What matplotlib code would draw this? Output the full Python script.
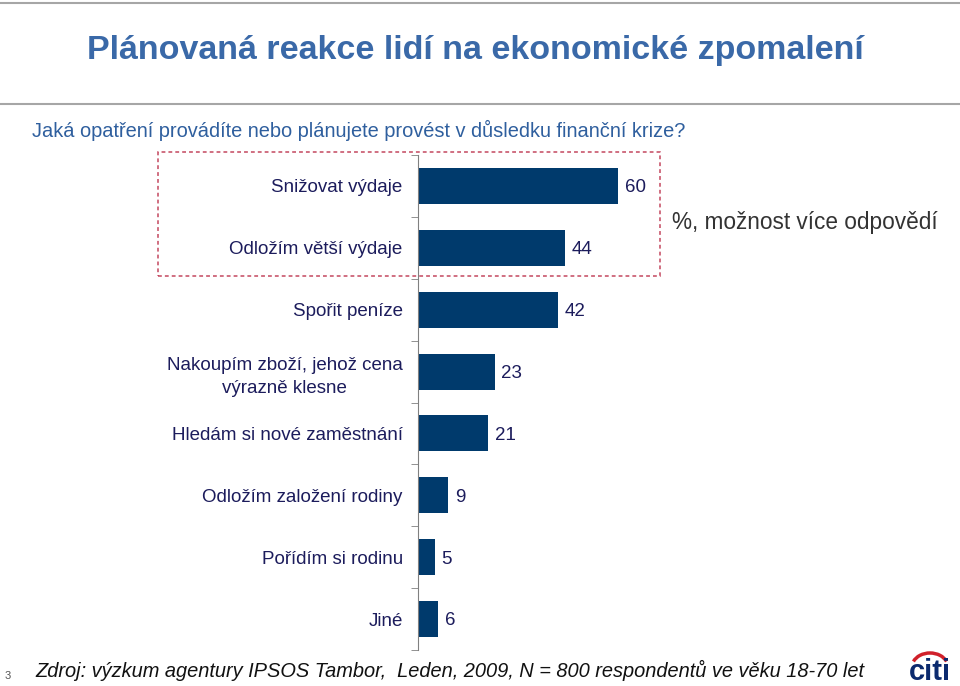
import matplotlib.pyplot as plt
from matplotlib.patches import Rectangle, Arc
from matplotlib.lines import Line2D

# %% DATA
categories = [
    "Snižovat výdaje",
    "Odložím větší výdaje",
    "Spořit peníze",
    "Nakoupím zboží, jehož cena\nvýrazně klesne",
    "Hledám si nové zaměstnání",
    "Odložím založení rodiny",
    "Pořídím si rodinu",
    "Jiné",
]
values = [60, 44, 42, 23, 21, 9, 5, 6]

title = "Plánovaná reakce lidí na ekonomické zpomalení"
question = "Jaká opatření provádíte nebo plánujete provést v důsledku finanční krize?"
note = "%, možnost více odpovědí"
source = "Zdroj: výzkum agentury IPSOS Tambor,  Leden, 2009, N = 800 respondentů ve věku 18-70 let"

plt.rcParams['font.family'] = ['Liberation Sans', 'DejaVu Sans']

bar_color = "#003a6c"
label_color = "#1c1c5c"

# %% FIGURE
fig = plt.figure(figsize=(9.6, 6.86), dpi=100)

# header lines
for y in [1 - 3 / 686, 1 - 104 / 686]:
    fig.add_artist(Line2D([0, 1], [y, y], color="#a6a6a6", lw=1.5, transform=fig.transFigure))

fig.text(475 / 960, 1 - 50 / 686, title, ha="center", va="center",
         fontsize=24.5, fontweight="bold", color="#3a69a8")
fig.text(32 / 960, 1 - 130 / 686, question, ha="left", va="center",
         fontsize=14.4, color="#2f5f9e")

# dashed box around first two items
fig.add_artist(Rectangle((158 / 960, 1 - 276 / 686), (660 - 158) / 960, (276 - 152) / 686,
                         transform=fig.transFigure, fill=False, ls=(0, (2.5, 2)),
                         lw=1.1, edgecolor="#c4485f"))

fig.text(672 / 960, 1 - 222 / 686, note, ha="left", va="center",
         fontsize=16.3, color="#333333")

# %% BARS
ax = fig.add_axes([418 / 960, 1 - 650 / 686, 333.3 / 960, 495 / 686])
y = list(range(len(categories)))
ax.barh(y, values, height=0.58, color=bar_color)
ax.set_xlim(0, 100)
ax.set_ylim(len(categories) - 0.5, -0.5)

for yi, v in zip(y, values):
    ax.text(v + 2, yi + 0.03, str(v), va="center", ha="left", fontsize=13.5, color=label_color)

ax.set_yticks(y)
ax.set_yticklabels(categories, fontsize=13.5, color=label_color)
for lab in ax.get_yticklabels():
    lab.set_multialignment("center")
    lab.set_linespacing(1.5)
ax.set_yticks([i - 0.5 for i in range(len(categories) + 1)], minor=True)
ax.tick_params(axis="y", which="major", length=0, pad=11)
ax.tick_params(axis="y", which="minor", length=5, color="#808080", direction="out")
ax.set_xticks([])
for s in ["top", "right", "bottom"]:
    ax.spines[s].set_visible(False)
ax.spines["left"].set_color("#808080")
ax.patch.set_alpha(0)

# %% FOOTER
fig.text(5 / 960, 1 - 676 / 686, "3", ha="left", va="center", fontsize=8, color="#555555")
fig.text(35 / 960, 1 - 670 / 686, source, ha="left", va="center",
         fontsize=14.4, style="italic", color="#111111")

# citi logo
fig.text(930 / 960, 1 - 672 / 686, "citi", ha="center", va="center",
         fontsize=21, fontweight="bold", color="#0b2a6e")
fig.add_artist(Arc((930 / 960, 1 - 667 / 686), 36 / 960, 28 / 686, theta1=25, theta2=155,
                   transform=fig.transFigure, color="#d0202a", lw=2.5))

fig.savefig("out.png", dpi=100)
